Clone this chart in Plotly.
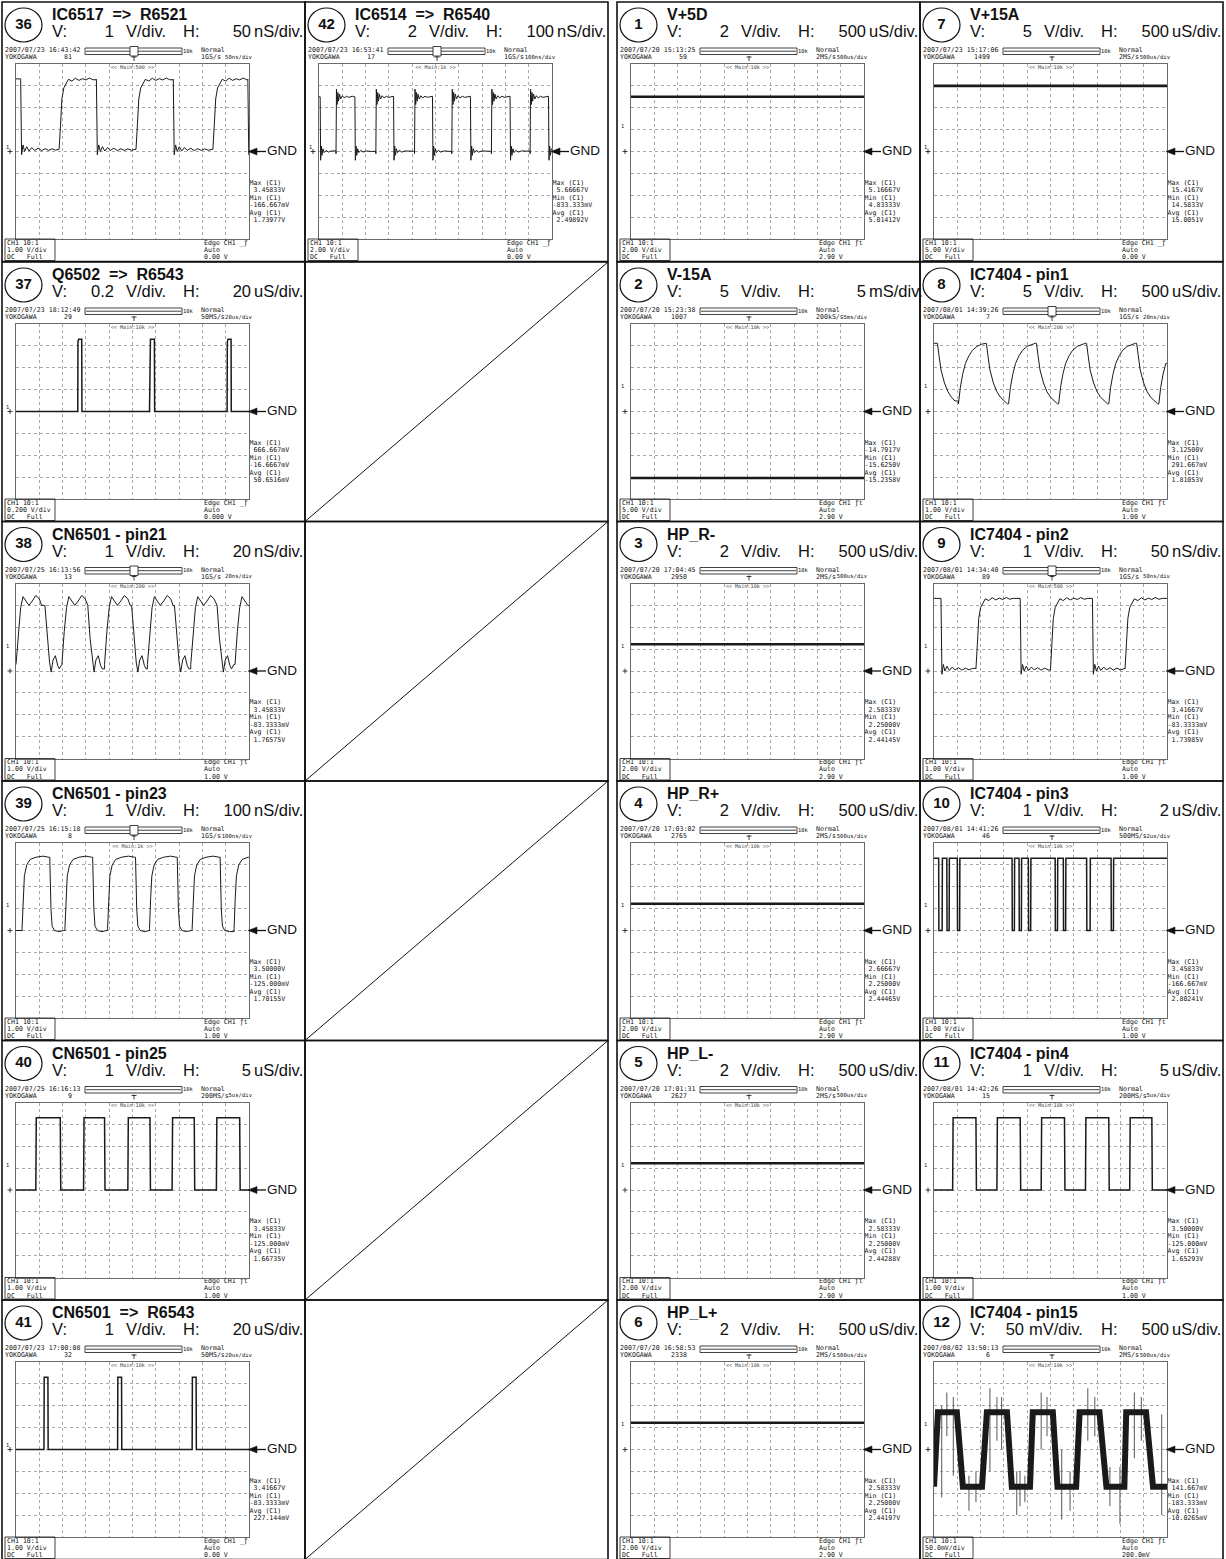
import plotly.graph_objects as go

FIG_W, FIG_H = 1226, 1559
COL_X0 = [2, 305, 617, 920]
ROW_Y0 = [2, 262, 521.5, 781, 1040.5, 1300]
CELL_W, CELL_H = 303, 259.5
EMPTY_CELLS = [(1, 1), (1, 2), (1, 3), (1, 4), (1, 5)]

# scope screen box, offsets from the cell corner
GX0, GX1, GY0, GY1 = 14, 247, 62, 237

# ---- cell captions -------------------------------------------------------
CELL_NO = [36, 42, 37, 38, 39, 40, 41, 1, 2, 3, 4, 5, 6, 7, 8, 9, 10, 11, 12]
CELL_COL = [0, 1, 0, 0, 0, 0, 0, 2, 2, 2, 2, 2, 2, 3, 3, 3, 3, 3, 3]
CELL_ROW = [0, 0, 1, 2, 3, 4, 5, 0, 1, 2, 3, 4, 5, 0, 1, 2, 3, 4, 5]
TITLES = ["IC6517  =>  R6521", "IC6514  =>  R6540", "Q6502  =>  R6543",
          "CN6501 - pin21", "CN6501 - pin23", "CN6501 - pin25", "CN6501  =>  R6543",
          "V+5D", "V-15A", "HP_R-", "HP_R+", "HP_L-", "HP_L+",
          "V+15A", "IC7404 - pin1", "IC7404 - pin2", "IC7404 - pin3", "IC7404 - pin4",
          "IC7404 - pin15"]
V_VALUE = ["1", "2", "0.2", "1", "1", "1", "1", "2", "5", "2", "2", "2", "2",
           "5", "5", "1", "1", "1", "50"]
V_UNIT = ["V/div."] * 18 + ["mV/div."]
H_VALUE = ["50", "100", "20", "20", "100", "5", "20", "500", "5", "500", "500", "500", "500",
           "500", "500", "50", "2", "5", "500"]
H_UNIT = ["nS/div.", "nS/div.", "uS/div.", "nS/div.", "nS/div.", "uS/div.", "uS/div.",
          "uS/div.", "mS/div.", "uS/div.", "uS/div.", "uS/div.", "uS/div.",
          "uS/div.", "uS/div.", "nS/div.", "uS/div.", "uS/div.", "uS/div."]

# ---- oscilloscope read-outs ---------------------------------------------
VOLTS_PER_DIV = [1, 2, 0.2, 1, 1, 1, 1, 2, 5, 2, 2, 2, 2, 5, 1, 1, 1, 1, 0.05]
STAMP = ["2007/07/23 16:43:42", "2007/07/23 16:53:41", "2007/07/23 18:12:49",
         "2007/07/25 16:13:56", "2007/07/25 16:15:18", "2007/07/25 16:16:13",
         "2007/07/23 17:00:08", "2007/07/20 15:13:25", "2007/07/20 15:23:38",
         "2007/07/20 17:04:45", "2007/07/20 17:03:02", "2007/07/20 17:01:31",
         "2007/07/20 16:58:53", "2007/07/23 15:17:06", "2007/08/01 14:39:26",
         "2007/08/01 14:34:40", "2007/08/01 14:41:26", "2007/08/01 14:42:26",
         "2007/08/02 13:50:13"]
ACQ_COUNT = ["81", "17", "29", "13", "8", "9", "32", "59", "1007", "2950", "2765", "2627",
             "2338", "1499", "7", "89", "46", "15", "6"]
SAMPLE_RATE = ["1GS/s", "1GS/s", "50MS/s", "1GS/s", "1GS/s", "200MS/s", "50MS/s",
               "2MS/s", "200kS/s", "2MS/s", "2MS/s", "2MS/s", "2MS/s", "2MS/s",
               "1GS/s", "1GS/s", "500MS/s", "200MS/s", "2MS/s"]
TIME_DIV = ["50ns/div", "100ns/div", "20us/div", "20ns/div", "100ns/div", "5us/div",
            "20us/div", "500us/div", "5ms/div", "500us/div", "500us/div", "500us/div",
            "500us/div", "500us/div", "20ns/div", "50ns/div", "2us/div", "5us/div",
            "500us/div"]
MAIN_LEN = ["500", "1k", "10k", "200", "1k", "10k", "10k", "10k", "10k", "10k", "10k",
            "10k", "10k", "10k", "200", "500", "10k", "10k", "10k"]
MAX_C1 = ["3.45833V", "5.66667V", "666.667mV", "3.45833V", "3.50000V", "3.45833V",
          "3.41667V", "5.16667V", "-14.7917V", "2.58333V", "2.66667V", "2.58333V",
          "2.58333V", "15.4167V", "3.12500V", "3.41667V", "3.45833V", "3.50000V",
          "141.667mV"]
MIN_C1 = ["-166.667mV", "-833.333mV", "-16.6667mV", "-83.3333mV", "-125.000mV",
          "-125.000mV", "-83.3333mV", "4.83333V", "-15.6250V", "2.25000V", "2.25000V",
          "2.25000V", "2.25000V", "14.5833V", "291.667mV", "-83.3333mV", "-166.667mV",
          "-125.000mV", "-183.333mV"]
AVG_C1 = ["1.73977V", "2.49892V", "50.6516mV", "1.76575V", "1.70155V", "1.66735V",
          "227.144mV", "5.01412V", "-15.2358V", "2.44145V", "2.44465V", "2.44288V",
          "2.44197V", "15.0051V", "1.81053V", "1.73985V", "2.80241V", "1.65293V",
          "-10.0265mV"]
VDIV_LABEL = ["1.00 V/div", "2.00 V/div", "0.200 V/div", "1.00 V/div", "1.00 V/div",
              "1.00 V/div", "1.00 V/div", "2.00 V/div", "5.00 V/div", "2.00 V/div",
              "2.00 V/div", "2.00 V/div", "2.00 V/div", "5.00 V/div", "1.00 V/div",
              "1.00 V/div", "1.00 V/div", "1.00 V/div", "50.0mV/div"]
TRIG_LEVEL = ["0.00 V", "0.00 V", "0.000 V", "1.00 V", "1.00 V", "1.00 V", "0.00 V",
              "2.90 V", "2.90 V", "2.90 V", "2.90 V", "2.90 V", "2.90 V", "0.00 V",
              "1.00 V", "1.00 V", "1.00 V", "1.00 V", "200.0mV"]
TRIG_SLOPE = ["_ƒ", "_ƒ", "_ƒ", "ƒt", "ƒt", "ƒt", "_ƒ", "ƒt", "ƒt", "ƒt", "ƒt",
              "ƒt", "ƒt", "_ƒ", "ƒt", "ƒt", "ƒt", "ƒt", "ƒt"]

# ---- waveforms: edge times (div) and level shapes (dt div, volts) ---------
EDGES_36 = [0.2, 1.85, 3.45, 5.15, 6.75, 8.45, 9.95]
HI_36 = [(0, 0.1), (0.06, 1.2), (0.12, 2.4), (0.2, 2.9), (0.3, 3.1), (0.4, 3.3), (0.55, 3.22),
         (0.7, 3.35), (0.85, 3.25), (1.0, 3.33), (1.15, 3.27), (1.3, 3.36), (1.45, 3.28),
         (1.6, 3.32)]
LO_36 = [(0, 3.3), (0.04, -0.15), (0.1, 0.3), (0.17, 0.0), (0.26, 0.22), (0.36, 0.02),
         (0.48, 0.18), (0.6, 0.05), (0.75, 0.15), (0.9, 0.04), (1.05, 0.13), (1.2, 0.05),
         (1.35, 0.12), (1.5, 0.06), (1.62, 0.1)]

EDGES_42 = [0.05, 0.73, 1.54, 2.44, 3.2, 4.1, 4.87, 5.7, 6.5, 7.4, 8.2, 9.06, 9.85]
HI_42 = [(0, -0.2), (0.02, 5.7), (0.05, 4.3), (0.08, 5.4), (0.11, 4.6), (0.15, 5.25),
         (0.2, 4.8), (0.27, 5.1), (0.35, 4.9), (0.45, 5.05), (0.55, 4.95), (0.7, 5.05),
         (0.8, 5.0)]
LO_42 = [(0, 5.0), (0.02, -0.8), (0.05, 0.5), (0.08, -0.35), (0.12, 0.25), (0.17, -0.1),
         (0.25, 0.1), (0.35, -0.05), (0.5, 0.05), (0.7, 0.0), (0.85, 0.02)]

EDGES_37 = [2.65, 2.82, 5.73, 5.94, 9.06, 9.23]
HI_37 = [(0, 0.0), (0.01, 0.64), (0.04, 0.66), (0.2, 0.66)]
LO_37 = [(0, 0.66), (0.01, 0.0), (3.0, 0.0)]

EDGES_38 = [0.0, 1.24, 1.97, 3.08, 3.8, 4.96, 5.64, 6.8, 7.5, 8.63, 9.4]
HI_38 = [(0, 0.3), (0.1, 1.8), (0.2, 2.9), (0.3, 3.4), (0.42, 3.2), (0.55, 3.0), (0.7, 3.2),
         (0.85, 3.45), (1.0, 3.3), (1.1, 3.0)]
LO_38 = [(0, 3.0), (0.1, 1.5), (0.2, 0.4), (0.27, -0.05), (0.35, 0.5), (0.45, 0.7),
         (0.55, 0.25), (0.62, 0.1), (0.72, 0.3)]

EDGES_39 = [0.26, 1.45, 2.1, 3.29, 3.93, 5.13, 5.73, 6.92, 7.56, 8.76, 9.36]
HI_39 = [(0, 0.1), (0.05, 1.5), (0.1, 2.5), (0.2, 3.0), (0.35, 3.25), (0.6, 3.35),
         (0.9, 3.4), (1.15, 3.35)]
LO_39 = [(0, 3.35), (0.05, 1.0), (0.1, 0.2), (0.2, 0.0), (0.4, -0.05), (0.6, 0.0)]

EDGES_40 = [0.85, 1.9, 2.9, 3.8, 4.8, 5.75, 6.7, 7.65, 8.6, 9.6]
HI_40 = [(0, 0.0), (0.02, 3.3), (1.2, 3.3)]
LO_40 = [(0, 3.3), (0.02, 0.0), (1.2, 0.0)]

EDGES_41 = [1.2, 1.37, 4.36, 4.53, 7.56, 7.73]
HI_41 = [(0, 0.0), (0.01, 3.3), (0.2, 3.35)]
LO_41 = [(0, 3.3), (0.01, 0.0), (3.5, 0.0)]

EDGES_8 = [0.15, 1.05, 2.25, 3.2, 4.4, 5.35, 6.55, 7.5, 8.7, 9.65]
HI_8 = [(0, 0.35), (0.08, 1.1), (0.18, 1.7), (0.3, 2.2), (0.45, 2.55), (0.6, 2.8),
        (0.8, 2.98), (1.0, 3.08), (1.15, 3.12)]
LO_8 = [(0, 3.1), (0.06, 2.6), (0.15, 1.9), (0.3, 1.3), (0.45, 0.9), (0.6, 0.65),
        (0.75, 0.48), (0.9, 0.35)]

EDGES_9 = [0.3, 1.8, 3.7, 5.0, 6.8, 8.2]
EDGES_10 = [0.2, 0.35, 0.55, 0.65, 1.0, 1.1, 3.35, 3.45, 3.65, 3.75, 4.05, 4.15,
            5.2, 5.3, 5.55, 5.65, 6.55, 6.7, 7.6, 7.7]
HI_10 = [(0, 0.0), (0.01, 3.3), (3.0, 3.3)]
LO_10 = [(0, 3.3), (0.01, 0.0), (0.5, 0.0)]
EDGES_11 = [0.8, 1.8, 2.7, 3.7, 4.6, 5.6, 6.5, 7.5, 8.4, 9.35]

WAVE_12_T = [0, 0.17, 0.98, 1.24, 2.06, 2.27, 3.13, 3.34, 4.12, 4.24, 5.1, 5.3, 6.1, 6.25,
             7.1, 7.4, 8.17, 8.25, 9.1, 9.4, 10]
WAVE_12_V = [-0.085, 0.085, 0.085, -0.085, -0.085, 0.085, 0.085, -0.085, -0.085, 0.085,
             0.085, -0.085, -0.085, 0.085, 0.085, -0.085, -0.085, 0.085, 0.085, -0.085,
             -0.085]
SPIKE_12_T = [0.33, 0.55, 0.83, 1.5, 1.8, 2.4, 2.7, 2.9, 3.55, 3.69, 3.9, 4.6, 4.85, 5.48,
              5.84, 6.6, 6.9, 7.55, 7.98, 8.6, 8.9, 9.77]
SPIKE_12_TOP = [0.10, 0.13, 0.12, -0.06, -0.05, 0.14, 0.12, 0.12, -0.05, -0.05, -0.06, 0.13,
                0.12, 0.0, -0.05, 0.14, 0.12, -0.04, -0.04, 0.13, 0.12, 0.08]
SPIKE_12_BOT = [-0.11, 0.03, -0.06, -0.14, -0.12, -0.05, 0.02, 0.0, -0.15, -0.13, -0.12, 0.0,
                0.03, -0.16, -0.14, 0.02, 0.03, -0.13, -0.17, -0.02, 0.02, -0.15]

DC_LEVEL = {1: 5.0, 2: -15.2, 3: 2.44, 4: 2.44, 5: 2.44, 6: 2.44, 7: 15.0}


def pulse_train(edges, start_high, hi_shape, lo_shape):
    first = hi_shape[-1][1] if start_high else lo_shape[-1][1]
    ts, vs = [0.0, edges[0]], [first, first]
    high = start_high
    stops = list(edges[1:]) + [10.0]
    for e, stop in zip(edges, stops):
        high = not high
        shape = hi_shape if high else lo_shape
        for dt, v in shape:
            if e + dt < stop:
                ts.append(e + dt)
                vs.append(v)
        ts.append(stop)
        vs.append(vs[-1])
    return ts, vs


WAVES = {
    36: pulse_train(EDGES_36, True, HI_36, LO_36),
    42: pulse_train(EDGES_42, True, HI_42, LO_42),
    37: pulse_train(EDGES_37, False, HI_37, LO_37),
    38: pulse_train(EDGES_38, False, HI_38, LO_38),
    39: pulse_train(EDGES_39, False, HI_39, LO_39),
    40: pulse_train(EDGES_40, False, HI_40, LO_40),
    41: pulse_train(EDGES_41, False, HI_41, LO_41),
    8: pulse_train(EDGES_8, True, HI_8, LO_8),
    9: pulse_train(EDGES_9, True, HI_36, LO_36),
    10: pulse_train(EDGES_10, True, HI_10, LO_10),
    11: pulse_train(EDGES_11, False, HI_40, LO_40),
    12: (WAVE_12_T, WAVE_12_V),
}
for k, lvl in DC_LEVEL.items():
    WAVES[k] = ([0, 10], [lvl, lvl])

INK = "#111111"
MONO = "DejaVu Sans Mono"
SANS = "Liberation Sans"

fig = go.Figure()
shapes = []
txt = {}


def put(kind, x, y, s):
    txt.setdefault(kind, ([], [], []))
    txt[kind][0].append(x)
    txt[kind][1].append(y)
    txt[kind][2].append(s)


def line(x0, y0, x1, y1, w=1.0, color=INK):
    shapes.append(dict(type="line", xref="x", yref="y", x0=x0, y0=y0, x1=x1, y1=y1,
                       line=dict(color=color, width=w)))


def rect(x0, y0, x1, y1, w=1.0, color=INK, fill=None):
    shapes.append(dict(type="rect", xref="x", yref="y", x0=x0, y0=y0, x1=x1, y1=y1,
                       line=dict(color=color, width=w), fillcolor=fill))


# empty cells with a diagonal
for c, r in EMPTY_CELLS:
    x0, y0 = COL_X0[c], ROW_Y0[r]
    rect(x0, y0, x0 + CELL_W, y0 + CELL_H, 1.6)
    line(x0, y0 + CELL_H, x0 + CELL_W, y0, 1.0)

axes = {}
for i, no in enumerate(CELL_NO):
    x0, y0 = COL_X0[CELL_COL[i]], ROW_Y0[CELL_ROW[i]]
    rect(x0, y0, x0 + CELL_W, y0 + CELL_H, 1.6)

    # caption
    shapes.append(dict(type="circle", xref="x", yref="y", x0=x0 + 3, y0=y0 + 6,
                       x1=x0 + 40, y1=y0 + 40, line=dict(color=INK, width=1.2)))
    put("num", x0 + 21.5, y0 + 23, str(no))
    put("title", x0 + 50, y0 + 14, TITLES[i])
    narrow = V_UNIT[i] == "mV/div."
    put("sub_l", x0 + 50, y0 + 31, "V:")
    put("sub_r", x0 + (104 if narrow else 112), y0 + 31, V_VALUE[i])
    put("sub_l", x0 + (109 if narrow else 124), y0 + 31, V_UNIT[i])
    put("sub_l", x0 + 181, y0 + 31, "H:")
    put("sub_r", x0 + 249, y0 + 31, H_VALUE[i])
    put("sub_l", x0 + 252, y0 + 31, H_UNIT[i])

    # scope header
    put("mono_l", x0 + 3, y0 + 48.5, STAMP[i])
    put("mono_l", x0 + 3, y0 + 55.5, "YOKOGAWA")
    put("mono_r", x0 + 70, y0 + 55.5, ACQ_COUNT[i])
    rect(x0 + 83, y0 + 46, x0 + 180, y0 + 52.5, 0.8)
    line(x0 + 84, y0 + 49.2, x0 + 179, y0 + 49.2, 0.8)
    put("tiny_l", x0 + 181, y0 + 49.5, "10k")
    if MAIN_LEN[i] != "10k":
        rect(x0 + 128, y0 + 44.5, x0 + 136, y0 + 54, 0.8, fill="white")
    line(x0 + 132, y0 + 54, x0 + 132, y0 + 59, 0.8)
    line(x0 + 129.5, y0 + 55, x0 + 134.5, y0 + 55, 0.8)
    put("mono_l", x0 + 199, y0 + 48.5, "Normal")
    put("mono_l", x0 + 199, y0 + 55.5, SAMPLE_RATE[i])
    put("tiny_r", x0 + 250, y0 + 55.5, TIME_DIV[i])
    put("tiny_c", x0 + (GX0 + GX1) / 2, y0 + GY0 + 3.5, "<< Main:%s >>" % MAIN_LEN[i])

    # stats at the right
    for j, s in enumerate(["Max (C1)", MAX_C1[i], "Min (C1)", MIN_C1[i], "Avg (C1)", AVG_C1[i]]):
        if j % 2 == 1 and not s.startswith("-"):
            s = " " + s
        put("mono_l", x0 + GX1 + 0.5, y0 + 181 + 7.5 * j, s)

    # bottom info box
    rect(x0 + 3, y0 + GY1, x0 + 53, y0 + CELL_H - 1, 0.8)
    for j, s in enumerate(["CH1 10:1", VDIV_LABEL[i], "DC   Full"]):
        put("mono_l", x0 + 5, y0 + 241 + 7.2 * j, s)
    for j, s in enumerate(["Edge CH1 " + TRIG_SLOPE[i], "Auto", TRIG_LEVEL[i]]):
        put("mono_l", x0 + 202, y0 + 241 + 7.2 * j, s)

    # GND arrow and ground marker
    gy = y0 + (GY0 + GY1) / 2
    shapes.append(dict(type="path", xref="x", yref="y",
                       path="M %f %f L %f %f L %f %f Z" % (x0 + GX1 - 1, gy, x0 + GX1 + 8, gy - 3.5,
                                                           x0 + GX1 + 8, gy + 3.5),
                       fillcolor=INK, line=dict(color=INK, width=0.5)))
    line(x0 + GX1 + 7, gy, x0 + GX1 + 17, gy, 1.3)
    put("gnd", x0 + GX1 + 18, gy + 0.5, "GND")
    line(x0 + 5.5, gy, x0 + 10.5, gy, 0.8)
    line(x0 + 8, gy - 2.5, x0 + 8, gy + 2.5, 0.8)
    if TRIG_LEVEL[i].startswith("0.0"):
        put("tiny_l", x0 + 4, gy - 4, "1")
    else:
        put("tiny_l", x0 + 4, y0 + 125, "1")

    # scope screen axes
    k = i + 2
    axes["xaxis%d" % k] = dict(domain=[(x0 + GX0) / FIG_W, (x0 + GX1) / FIG_W],
                               anchor="y%d" % k, range=[0, 10], dtick=1, tick0=0)
    axes["yaxis%d" % k] = dict(domain=[1 - (y0 + GY1) / FIG_H, 1 - (y0 + GY0) / FIG_H],
                               anchor="x%d" % k, range=[-4, 4], dtick=1, tick0=0)

    ts, vs = WAVES[no]
    vd = VOLTS_PER_DIV[i]
    width = 1.0
    if no in DC_LEVEL:
        width = 2.6
    elif no in (40, 41, 11, 10, 37):
        width = 1.5
    elif no == 12:
        width = 6
    if no == 12:
        sx, sy = [], []
        for t, a, b in zip(SPIKE_12_T, SPIKE_12_TOP, SPIKE_12_BOT):
            sx += [t, t, None]
            sy += [a / vd, b / vd, None]
        fig.add_trace(go.Scatter(x=sx, y=sy, mode="lines", line=dict(color="#666666", width=1.1),
                                 xaxis="x%d" % k, yaxis="y%d" % k, hoverinfo="skip",
                                 showlegend=False))
    fig.add_trace(go.Scatter(x=ts, y=[v / vd for v in vs], mode="lines",
                             line=dict(color="#1a1a1a", width=width),
                             xaxis="x%d" % k, yaxis="y%d" % k, hoverinfo="skip",
                             showlegend=False))

FONTS = {
    "num": (dict(family=SANS, size=15, color=INK), "middle center", "<b>%s</b>"),
    "title": (dict(family=SANS, size=16, color=INK), "middle right", "<b>%s</b>"),
    "sub_l": (dict(family=SANS, size=16.5, color=INK), "middle right", "%s"),
    "sub_r": (dict(family=SANS, size=16.5, color=INK), "middle left", "%s"),
    "gnd": (dict(family=SANS, size=13.5, color=INK), "middle right", "%s"),
    "mono_l": (dict(family=MONO, size=6.6, color=INK), "middle right", "%s"),
    "mono_r": (dict(family=MONO, size=6.6, color=INK), "middle left", "%s"),
    "tiny_l": (dict(family=MONO, size=5.4, color=INK), "middle right", "%s"),
    "tiny_r": (dict(family=MONO, size=5.6, color=INK), "middle left", "%s"),
    "tiny_c": (dict(family=MONO, size=5.2, color="#444444"), "middle center", "%s"),
}
for kind, (xs, ys, ss) in txt.items():
    font, pos, fmt = FONTS[kind]
    fig.add_trace(go.Scatter(x=xs, y=ys, text=[fmt % s for s in ss], mode="text",
                             textposition=pos, textfont=font, xaxis="x", yaxis="y",
                             hoverinfo="skip", showlegend=False, cliponaxis=False))

scope_axis = dict(showgrid=True, gridcolor="#a8a8a8", griddash="dot", gridwidth=1,
                  zeroline=False, showticklabels=False, ticks="", showline=True, mirror=True,
                  linecolor="#6a6a6a", linewidth=1, fixedrange=True)
for name, ax in axes.items():
    ax.update(scope_axis)

fig.update_layout(
    width=FIG_W, height=FIG_H, autosize=False,
    margin=dict(l=0, r=0, t=0, b=0),
    paper_bgcolor="white", plot_bgcolor="rgba(0,0,0,0)",
    showlegend=False,
    xaxis=dict(domain=[0, 1], range=[0, FIG_W], visible=False, fixedrange=True),
    yaxis=dict(domain=[0, 1], range=[FIG_H, 0], visible=False, fixedrange=True),
    shapes=shapes,
    **axes,
)

fig.write_html("out.html", config={"displayModeBar": False},
               post_script="document.body.style.margin='0';")
